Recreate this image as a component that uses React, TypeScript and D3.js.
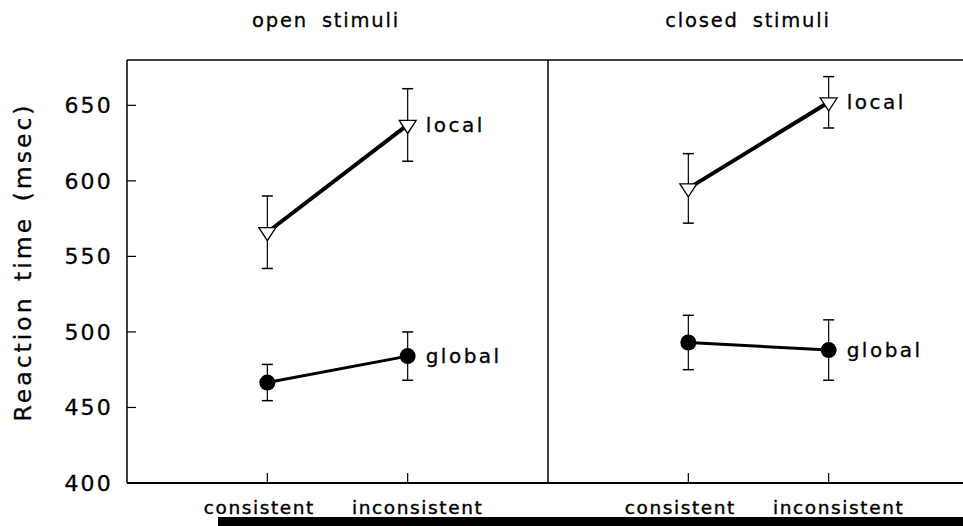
import React from 'react'
import * as d3 from 'd3'

const width = 963
const height = 526
const margin = { top: 60, left: 127, bottom: 483 }
const panelWidth = 421

const conditions = ['consistent', 'inconsistent']
const panels = ['open stimuli', 'closed stimuli']
const yTicks = [400, 450, 500, 550, 600, 650]

// mean and half error bar, [consistent, inconsistent]
const openLocal = [566, 637]
const openLocalErr = [24, 24]
const openGlobal = [466.5, 484]
const openGlobalErr = [12, 16]
const closedLocal = [595, 652]
const closedLocalErr = [23, 17]
const closedGlobal = [493, 488]
const closedGlobalErr = [18, 20]

const labelShift = [-8, 10]
const font = '"DejaVu Sans", sans-serif'

const yScale = d3.scaleLinear().domain([400, 680]).range([margin.bottom, margin.top])

const series = [
    [
        { name: 'local', values: openLocal, err: openLocalErr },
        { name: 'global', values: openGlobal, err: openGlobalErr },
    ],
    [
        { name: 'local', values: closedLocal, err: closedLocalErr },
        { name: 'global', values: closedGlobal, err: closedGlobalErr },
    ],
]

const triangle = (x, y) => {
    const w = 8.5
    return `M${x - w},${y - 4.5}L${x + w},${y - 4.5}L${x},${y + 8.5}Z`
}

const Panel = ({ index }) => {
    const x0 = margin.left + index * panelWidth
    const xScale = d3
        .scalePoint()
        .domain(conditions)
        .range([x0, x0 + panelWidth])
        .padding(1)
    const line = d3
        .line()
        .x((d, i) => xScale(conditions[i]))
        .y((d) => yScale(d))

    return (
        <g>
            <text
                x={index === 0 ? 326 : 748}
                y={27}
                textAnchor="middle"
                fontFamily={font}
                fontSize={19.5}
                letterSpacing={1.8}
                wordSpacing={6}
                stroke="#000"
                strokeWidth={0.3}
            >
                {panels[index]}
            </text>
            {conditions.map((c, i) => (
                <g key={c}>
                    <line
                        x1={xScale(c)}
                        x2={xScale(c)}
                        y1={margin.bottom}
                        y2={margin.bottom - 10}
                        stroke="#000"
                        strokeWidth={1.2}
                    />
                    <text
                        x={xScale(c) + labelShift[i]}
                        y={514}
                        textAnchor="middle"
                        fontFamily={font}
                        fontSize={18.5}
                        letterSpacing={1.6}
                        stroke="#000"
                        strokeWidth={0.4}
                    >
                        {c}
                    </text>
                </g>
            ))}
            {series[index].map((s) => (
                <g key={s.name}>
                    <path
                        d={line(s.values)}
                        fill="none"
                        stroke="#000"
                        strokeWidth={s.name === 'local' ? 4 : 3}
                    />
                    {s.values.map((v, i) => {
                        const cx = xScale(conditions[i])
                        const yTop = yScale(v + s.err[i])
                        const yBot = yScale(v - s.err[i])
                        return (
                            <g key={i}>
                                <line x1={cx} x2={cx} y1={yTop} y2={yBot} stroke="#000" strokeWidth={1.2} />
                                <line x1={cx - 5.5} x2={cx + 5.5} y1={yTop} y2={yTop} stroke="#000" strokeWidth={1.5} />
                                <line x1={cx - 5.5} x2={cx + 5.5} y1={yBot} y2={yBot} stroke="#000" strokeWidth={1.5} />
                                {s.name === 'local' ? (
                                    <path d={triangle(cx, yScale(v))} fill="#fff" stroke="#000" strokeWidth={1.3} />
                                ) : (
                                    <circle cx={cx} cy={yScale(v)} r={8} fill="#000" />
                                )}
                            </g>
                        )
                    })}
                    <text
                        x={xScale(conditions[1]) + 18}
                        y={yScale(s.values[1])}
                        dy="0.35em"
                        fontFamily={font}
                        fontSize={20}
                        letterSpacing={2.5}
                        stroke="#000"
                        strokeWidth={0.3}
                    >
                        {s.name}
                    </text>
                </g>
            ))}
        </g>
    )
}

const App = () => {
    const right = width
    return (
        <svg
            width={width}
            height={height}
            style={{ position: 'absolute', left: 0, top: 0, background: '#fff' }}
        >
            <rect width={width} height={height} fill="#fff" />
            {/* frame */}
            <line x1={margin.left} x2={right} y1={margin.top} y2={margin.top} stroke="#000" strokeWidth={1.5} />
            <line x1={margin.left} x2={right} y1={margin.bottom} y2={margin.bottom} stroke="#000" strokeWidth={2} />
            <line x1={margin.left} x2={margin.left} y1={margin.top} y2={margin.bottom} stroke="#000" strokeWidth={1.5} />
            <line
                x1={margin.left + panelWidth}
                x2={margin.left + panelWidth}
                y1={margin.top}
                y2={margin.bottom}
                stroke="#000"
                strokeWidth={1.5}
            />
            {yTicks.map((t) => (
                <g key={t}>
                    <line
                        x1={margin.left}
                        x2={margin.left + 9}
                        y1={yScale(t)}
                        y2={yScale(t)}
                        stroke="#000"
                        strokeWidth={1.2}
                    />
                    <text
                        x={113}
                        y={yScale(t)}
                        dy="0.36em"
                        textAnchor="end"
                        fontFamily={font}
                        fontSize={22}
                        letterSpacing={2.2}
                        stroke="#000"
                        strokeWidth={0.3}
                    >
                        {t}
                    </text>
                </g>
            ))}
            <text
                transform={`translate(31, 262) rotate(-90)`}
                textAnchor="middle"
                fontFamily={font}
                fontSize={23.5}
                letterSpacing={3}
                wordSpacing={4}
                stroke="#000"
                strokeWidth={0.3}
            >
                Reaction time (msec)
            </text>
            {panels.map((p, i) => (
                <Panel key={p} index={i} />
            ))}
            {/* scan edge */}
            <rect x={218} y={517} width={width - 218} height={9} fill="#000" />
        </svg>
    )
}

export default App
